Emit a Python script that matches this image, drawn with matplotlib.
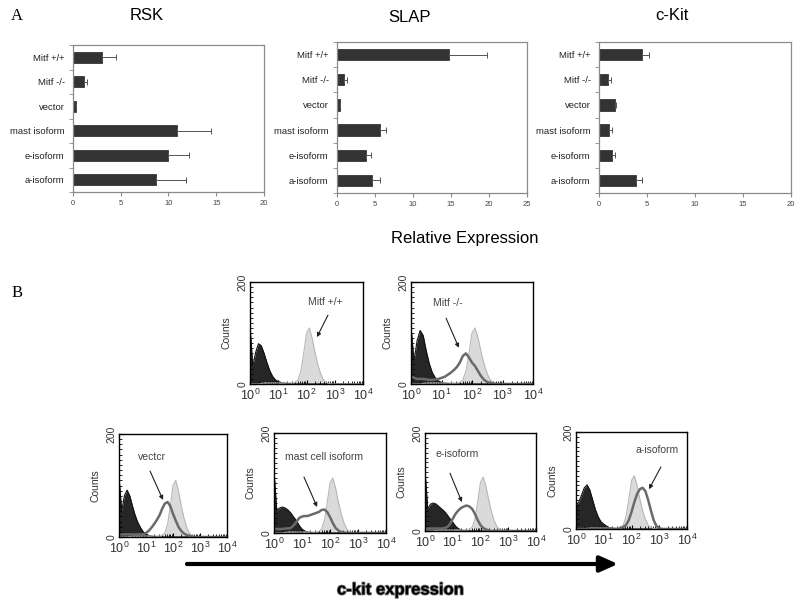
import numpy as np
import matplotlib
matplotlib.use("Agg")
import matplotlib.pyplot as plt
import matplotlib.patheffects as pe

plt.rcParams['font.family'] = ['Liberation Sans', 'DejaVu Sans']
plt.rcParams['mathtext.fontset'] = 'custom'
plt.rcParams['mathtext.rm'] = 'Liberation Sans'
plt.rcParams['mathtext.it'] = 'Liberation Sans:italic'

# ---- panel A: relative expression (bar charts) ----
samples = ["Mitf +/+", "Mitf -/-", "vector", "mast isoform", "e-isoform", "a-isoform"]

rsk_mean = [3.05, 1.2, 0.3, 10.85, 10.0, 8.65]
rsk_top = [4.5, 1.5, 0.3, 14.4, 12.1, 11.8]
slap_mean = [14.8, 0.95, 0.35, 5.7, 3.8, 4.6]
slap_top = [19.8, 1.3, 0.35, 6.45, 4.5, 5.6]
ckit_mean = [4.5, 0.97, 1.67, 1.08, 1.35, 3.85]
ckit_top = [5.2, 1.25, 1.77, 1.32, 1.63, 4.5]

# ---- panel B: flow cytometry histograms (log10 channel, counts) ----
channel = np.linspace(0, 4, 41)   # log10 fluorescence, 0.1-decade bins

wt_ref = [0, 0, 0, 0, 1, 2, 2, 2, 2, 2, 2, 2, 2, 2, 2, 2, 3, 8, 25, 60,
          100, 110, 90, 62, 38, 20, 8, 3, 1, 0, 0, 0, 0, 0, 0, 0, 0, 0, 0, 0, 0]

iso_wt = [112, 35, 62, 79, 75, 60, 42, 26, 15, 8, 5, 3, 2, 1, 1, 0, 0, 0, 0, 0,
          0, 0, 0, 0, 0, 0, 0, 0, 0, 0, 0, 0, 0, 0, 0, 0, 0, 0, 0, 0, 0]
iso_ko = [112, 45, 85, 105, 95, 65, 40, 22, 12, 6, 3, 2, 1, 0, 0, 0, 0, 0, 0, 0,
          0, 0, 0, 0, 0, 0, 0, 0, 0, 0, 0, 0, 0, 0, 0, 0, 0, 0, 0, 0, 0]
iso_vec = [117, 50, 80, 91, 80, 60, 42, 28, 18, 10, 6, 3, 2, 1, 0, 0, 0, 0, 0, 0,
           0, 0, 0, 0, 0, 0, 0, 0, 0, 0, 0, 0, 0, 0, 0, 0, 0, 0, 0, 0, 0]
iso_mast = [123, 45, 50, 52, 50, 46, 40, 32, 25, 15, 8, 4, 2, 1, 0, 0, 0, 0, 0, 0,
            0, 0, 0, 0, 0, 0, 0, 0, 0, 0, 0, 0, 0, 0, 0, 0, 0, 0, 0, 0, 0]
iso_e = [123, 45, 55, 57, 55, 50, 45, 40, 33, 25, 18, 10, 5, 2, 1, 0, 0, 0, 0, 0,
         0, 0, 0, 0, 0, 0, 0, 0, 0, 0, 0, 0, 0, 0, 0, 0, 0, 0, 0, 0, 0]
iso_a = [50, 55, 70, 85, 91, 80, 60, 40, 25, 15, 10, 6, 3, 2, 1, 0, 0, 0, 0, 0,
         0, 0, 0, 0, 0, 0, 0, 0, 0, 0, 0, 0, 0, 0, 0, 0, 0, 0, 0, 0, 0]

ko_line = [15, 12, 10, 10, 10, 9, 8, 8, 9, 10, 12, 14, 18, 22, 27, 33, 42, 55, 60, 52,
           42, 35, 25, 15, 8, 4, 2, 1, 0, 0, 0, 0, 0, 0, 0, 0, 0, 0, 0, 0, 0]
vec_line = [5, 5, 5, 5, 5, 5, 5, 5, 5, 5, 8, 12, 18, 25, 33, 42, 55, 65, 68, 60,
            45, 32, 20, 12, 7, 4, 2, 1, 0, 0, 0, 0, 0, 0, 0, 0, 0, 0, 0, 0, 0]
mast_line = [8, 8, 8, 8, 9, 9, 10, 15, 22, 30, 33, 34, 34, 36, 38, 40, 42, 46, 47, 42,
             32, 20, 10, 5, 2, 1, 0, 0, 0, 0, 0, 0, 0, 0, 0, 0, 0, 0, 0, 0, 0]
e_line = [5, 5, 5, 5, 5, 5, 5, 6, 8, 14, 25, 35, 42, 47, 50, 52, 50, 45, 35, 22,
          12, 6, 3, 1, 0, 0, 0, 0, 0, 0, 0, 0, 0, 0, 0, 0, 0, 0, 0, 0, 0]
a_line = [0, 0, 0, 0, 0, 0, 0, 0, 0, 0, 0, 0, 0, 0, 0, 0, 2, 4, 8, 18,
          35, 55, 72, 82, 85, 78, 60, 38, 18, 6, 2, 0, 0, 0, 0, 0, 0, 0, 0, 0, 0]

W, H = 800, 604
fig = plt.figure(figsize=(8, 6.04), dpi=100)


def box(l, r, t, b):
    # pixel box (top-left origin) -> figure fraction rect
    return [l / W, 1 - b / H, (r - l) / W, (b - t) / H]


def px(x, y):
    return (x / W, 1 - y / H)


def bar_panel(rect, mean, top, xmax):
    ax = fig.add_axes(rect)
    ypos = np.arange(len(samples))[::-1]
    err = [np.zeros(len(mean)), np.array(top) - np.array(mean)]
    ax.barh(ypos, mean, height=0.45, color="#333333", edgecolor="#222222", lw=0.5)
    ax.errorbar(mean, ypos, xerr=err, fmt="none", ecolor="#555555",
                elinewidth=0.7, capsize=2, capthick=0.7)
    ax.set_xlim(0, xmax)
    ax.set_ylim(-0.5, len(samples) - 0.5)
    ax.set_xticks(np.arange(0, xmax + 1, 5))
    ax.set_yticks(ypos)
    ax.set_yticklabels(samples)
    ax.set_yticks(np.arange(-0.5, len(samples)), minor=True)
    ax.tick_params(axis="y", which="major", length=0, pad=6, labelsize=6.8, labelcolor="#222222")
    ax.tick_params(axis="y", which="minor", length=3, color="#888888", direction="out")
    ax.tick_params(axis="x", length=3, color="#888888", labelsize=5.5, labelcolor="#444444", pad=3)
    for s in ax.spines.values():
        s.set_color("#8a8a8a")
        s.set_linewidth(0.9)
    return ax


bar_panel(box(73, 264, 45, 192), rsk_mean, rsk_top, 20)
bar_panel(box(337, 527, 42, 193), slap_mean, slap_top, 25)
bar_panel(box(599, 791, 42, 193), ckit_mean, ckit_top, 20)

fig.text(*px(147, 16), "RSK", fontsize=12, ha="center", va="center")
fig.text(*px(410, 18), "SLAP", fontsize=12, ha="center", va="center")
fig.text(*px(672, 16), "c-Kit", fontsize=12, ha="center", va="center")

fig.text(*px(465, 238), "Relative Expression", fontsize=12, ha="center", va="center")
fig.text(*px(17, 16), "A", fontsize=12, family="Liberation Serif", ha="center", va="center")
fig.text(*px(17, 293), "B", fontsize=12, family="Liberation Serif", ha="center", va="center")


def hist_panel(rect, iso, line, label, txt, start, tip):
    ax = fig.add_axes(rect)
    ax.fill_between(channel, iso, color="#262626", lw=0)
    ax.plot(channel, iso, color="#111111", lw=0.8)
    ax.fill_between(channel, wt_ref, color="#dadada", lw=0)
    ax.plot(channel, wt_ref, color="#b8b8b8", lw=0.8)
    if line is not None:
        ax.plot(channel, line, color="#6a6a6a", lw=1.8)
    ax.set_xlim(0, 4)
    ax.set_ylim(0, 200)
    ax.set_xticks(range(5))
    ax.set_xticklabels(["$10^{%d}$" % k for k in range(5)], fontsize=9, color="#333333")
    minor = [d + np.log10(m) for d in range(4) for m in range(2, 10)]
    ax.set_xticks(minor, minor=True)
    ax.set_yticks([0, 200])
    ax.set_yticklabels(["0", "200"], rotation=90, va="center", fontsize=7.5, color="#333333")
    ax.set_yticks(np.arange(0, 201, 10), minor=True)
    ax.tick_params(axis="x", which="major", direction="in", length=3, pad=3)
    ax.tick_params(axis="x", which="minor", direction="in", length=2)
    ax.tick_params(axis="y", which="major", direction="in", length=4, pad=2)
    ax.tick_params(axis="y", which="minor", direction="in", length=2)
    ax.set_ylabel("Counts", fontsize=7.5, labelpad=4, color="#333333")
    for s in ax.spines.values():
        s.set_linewidth(1.0)
    ax.text(txt[0], txt[1], label, fontsize=7.5, color="#444444", ha="center", va="center")
    ax.annotate("", xy=tip, xytext=start,
                arrowprops=dict(arrowstyle="-|>", color="#222222", lw=0.8,
                                mutation_scale=6, shrinkA=0, shrinkB=0))
    return ax


hist_panel(box(250, 363, 282, 384), iso_wt, None, "Mitf +/+", (2.65, 161), (2.76, 135), (2.37, 92))
hist_panel(box(411, 533, 282, 384), iso_ko, ko_line, "Mitf -/-", (1.21, 159), (1.15, 129), (1.57, 71))
hist_panel(box(119, 227, 434, 537), iso_vec, vec_line, "vectcr", (1.22, 155), (1.15, 128), (1.63, 72))
hist_panel(box(274, 386, 433, 533), iso_mast, mast_line, "mast cell isoform", (1.79, 152), (1.07, 112), (1.54, 52))
hist_panel(box(425, 536, 433, 531), iso_e, e_line, "e-isoform", (1.15, 157), (0.9, 118), (1.33, 59))
hist_panel(box(576, 687, 432, 529), iso_a, a_line, "a-isoform", (2.92, 163), (3.06, 128), (2.63, 82))

fig.add_artist(matplotlib.patches.FancyArrowPatch(
    px(187, 564), px(618, 564), transform=fig.transFigure,
    arrowstyle="-|>,head_length=0.9,head_width=0.4", mutation_scale=12,
    color="black", lw=3, shrinkA=0, shrinkB=0))

fig.text(*px(400, 590), "c-kit expression", fontsize=12, fontweight="bold",
         ha="center", va="center",
         path_effects=[pe.withStroke(linewidth=1.2, foreground="#777777")])

fig.savefig("out.png", dpi=100)
